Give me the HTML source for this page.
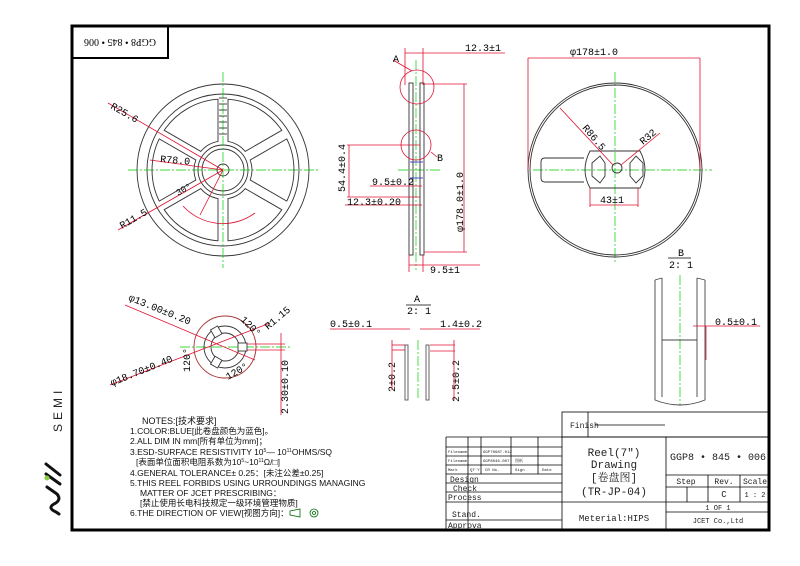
<!DOCTYPE html>
<html><head><meta charset="utf-8">
<style>
html,body{margin:0;padding:0;background:#fff;}
svg{display:block;}
text{font-family:"Liberation Mono","Noto Serif CJK SC",monospace;}
.s text{font-family:"Liberation Sans","Noto Sans CJK SC",sans-serif;}
.r text{font-family:"Liberation Serif","Noto Serif CJK SC",serif;}
</style></head><body>
<svg id="d" width="800" height="566" viewBox="0 0 800 566" xmlns="http://www.w3.org/2000/svg">
<rect width="800" height="566" fill="#fff"/>
<rect x="72" y="26" width="697" height="504" fill="none" stroke="#000" stroke-width="3"/>
<rect x="72" y="26" width="96" height="32" fill="none" stroke="#000" stroke-width="2"/>
<g class="r"><text x="120" y="46" font-size="10" text-anchor="middle" transform="rotate(180 120 42.5)">GGP8 • 845 • 006</text></g>

<g id="lr" fill="none" stroke="#333" stroke-width="0.9">
<circle cx="223" cy="170" r="86"/>
<circle cx="223" cy="170" r="76"/>
<circle cx="223" cy="170" r="25"/>
<circle cx="223" cy="170" r="21"/>
<circle cx="223" cy="170" r="6"/>
</g>
<g stroke="#0c0" stroke-width="0.7" stroke-dasharray="10,2,2,2">
<line x1="128" y1="170" x2="320" y2="170"/><line x1="223" y1="72" x2="223" y2="268"/>
<line x1="533" y1="170" x2="712" y2="170"/><line x1="615" y1="72" x2="615" y2="262"/>
<line x1="180" y1="347" x2="290" y2="347"/>
<line x1="418" y1="340" x2="418" y2="400"/><line x1="680" y1="275" x2="680" y2="405"/>
<line x1="416" y1="60" x2="416" y2="270"/><line x1="398" y1="170" x2="440" y2="170"/>
</g>
<g stroke="#e01030" stroke-width="0.8" fill="none">
<line x1="108" y1="103" x2="223" y2="170"/>
<line x1="150" y1="160" x2="223" y2="170"/>
<line x1="118" y1="230" x2="223" y2="170"/>
<path d="M183 206 A54 54 0 0 0 255 213"/>
<line x1="223" y1="170" x2="200" y2="215"/>
</g>
<g font-size="10" fill="#000">
<text x="110" y="108" transform="rotate(30 110 108)">R25.6</text>
<text x="160" y="162" transform="rotate(5 160 162)">R78.0</text>
<text x="122" y="229" transform="rotate(-30 122 229)">R11.5</text>
<text x="178" y="196" font-size="9" transform="rotate(-30 178 196)">30°</text>
</g>

<g stroke="#333" stroke-width="0.9" fill="none">
<rect x="409" y="83" width="4" height="172"/><rect x="420" y="83" width="4" height="172"/>
</g>
<g stroke="#22c" stroke-width="0.8"><line x1="410" y1="162" x2="423" y2="162"/><line x1="410" y1="178" x2="423" y2="178"/></g>
<g stroke="#e01030" stroke-width="0.8" fill="none">
<circle cx="417" cy="87" r="17"/><circle cx="416" cy="145" r="15"/>
<line x1="405" y1="53" x2="505" y2="53"/>
<line x1="405" y1="48" x2="405" y2="85"/><line x1="423" y1="48" x2="423" y2="85"/>
<line x1="424" y1="84" x2="467" y2="84"/><line x1="424" y1="252" x2="467" y2="252"/>
<line x1="464" y1="84" x2="464" y2="252"/>
<line x1="347" y1="145" x2="420" y2="145"/><line x1="347" y1="197" x2="420" y2="197"/><line x1="349" y1="145" x2="349" y2="197"/>
<line x1="370" y1="186" x2="422" y2="186"/>
<line x1="345" y1="205" x2="422" y2="205"/>
<line x1="409" y1="265" x2="480" y2="265"/>
<line x1="409" y1="255" x2="409" y2="272"/><line x1="423" y1="255" x2="423" y2="272"/>
<line x1="412" y1="71" x2="393" y2="60"/><line x1="431" y1="152" x2="437" y2="157"/>
</g>
<g font-size="10">
<text x="465" y="51">12.3±1</text>
<text x="393" y="62">A</text>
<text x="437" y="161">B</text>
<text x="372" y="185">9.5±0.2</text>
<text x="347" y="205">12.3±0.20</text>
<text x="430" y="273">9.5±1</text>
<text x="0" y="0" transform="translate(345 192) rotate(-90)">54.4±0.4</text>
<text x="0" y="0" transform="translate(463 232) rotate(-90)">φ178.0±1.0</text>
</g>

<g stroke="#333" stroke-width="0.9" fill="none">
<circle cx="615" cy="170" r="87"/><circle cx="615" cy="170" r="85"/>
<path d="M590 151 L640 151 Q650 170 640 188 L590 188 Q580 170 590 151 Z"/>
<path d="M584 158 L545 158 Q541 158 541 162 L541 178 Q541 182 545 182 L584 182"/>
<circle cx="617" cy="168" r="5"/>
<path d="M592 163 L600 156 L605 163 L605 176 L600 183 L592 176 Z"/>
<path d="M630 163 L636 156 L643 163 L643 176 L636 183 L630 176 Z"/>
</g>
<g stroke="#e01030" stroke-width="0.8" fill="none">
<line x1="528" y1="58" x2="700" y2="58"/><line x1="528" y1="58" x2="528" y2="170"/><line x1="700" y1="58" x2="700" y2="170"/>
<line x1="560" y1="108" x2="613" y2="165"/><line x1="660" y1="133" x2="621" y2="165"/>
<line x1="590" y1="188" x2="590" y2="207"/><line x1="638" y1="188" x2="638" y2="207"/><line x1="590" y1="205" x2="638" y2="205"/>
</g>
<g font-size="10">
<text x="570" y="55">φ178±1.0</text>
<text x="582" y="128" transform="rotate(50 582 128)">R86.5</text>
<text x="643" y="145" transform="rotate(-40 643 145)">R32</text>
<text x="600" y="203">43±1</text>
</g>

<g stroke="#333" stroke-width="0.9" fill="none">
<circle cx="225" cy="347" r="31" stroke="#a33"/>
<circle cx="225" cy="347" r="21"/><circle cx="225" cy="347" r="14"/>
</g>
<g stroke="#e01030" stroke-width="0.8" fill="none">
<line x1="125" y1="305" x2="255" y2="360"/>
<line x1="110" y1="385" x2="270" y2="323"/>
<line x1="245" y1="344" x2="285" y2="344"/><line x1="245" y1="350" x2="285" y2="350"/>
<line x1="281" y1="333" x2="281" y2="415"/>
</g>
<g font-size="10">
<text x="128" y="300" transform="rotate(22 128 300)">φ13.00±0.20</text>
<text x="112" y="386" transform="rotate(-22 112 386)">φ18.70±0.40</text>
<text x="240" y="320" transform="rotate(45 240 320)">120°</text>
<text x="268" y="330" transform="rotate(-40 268 330)">R1.15</text>
<text x="0" y="0" transform="translate(190 372) rotate(-90)">120°</text>
<text x="228" y="380" transform="rotate(-30 228 380)">120°</text>
<text x="0" y="0" transform="translate(288 414) rotate(-90)">2.30±0.10</text>
</g>

<g font-size="10"><text x="414" y="302">A</text><text x="407" y="314">2: 1</text>
<line x1="406" y1="305" x2="431" y2="305" stroke="#000" stroke-width="0.8"/>
<text x="330" y="327">0.5±0.1</text><text x="440" y="327">1.4±0.2</text>
<text x="0" y="0" transform="translate(395 392) rotate(-90)">2±0.2</text>
<text x="0" y="0" transform="translate(459 402) rotate(-90)">2.5±0.2</text></g>
<g stroke="#555" stroke-width="0.9" fill="none"><rect x="405" y="345" width="3" height="55"/><rect x="426" y="345" width="3" height="55"/></g>
<g stroke="#e01030" stroke-width="0.8"><line x1="330" y1="329" x2="410" y2="329"/><line x1="420" y1="329" x2="480" y2="329"/>
<line x1="392" y1="340" x2="392" y2="390"/><line x1="392" y1="345" x2="405" y2="345"/><line x1="392" y1="350" x2="405" y2="350"/>
<line x1="454" y1="340" x2="454" y2="400"/><line x1="430" y1="345" x2="455" y2="345"/><line x1="430" y1="351" x2="455" y2="351"/></g>

<g font-size="10"><text x="678" y="256">B</text><text x="669" y="268">2: 1</text>
<line x1="668" y1="258" x2="691" y2="258" stroke="#000" stroke-width="0.8"/>
<text x="715" y="325">0.5±0.1</text></g>
<g stroke="#444" stroke-width="0.9" fill="none">
<path d="M655 280 L655 400 Q680 410 705 400 L705 280"/>
<path d="M662 278 L662 397"/><path d="M697 278 L697 397"/>
<path d="M655 280 L662 278"/><path d="M705 280 L697 278"/>
<line x1="662" y1="340" x2="697" y2="340"/>
</g>
<g stroke="#e01030" stroke-width="0.8"><line x1="693" y1="326" x2="760" y2="326"/><line x1="706" y1="326" x2="706" y2="360"/></g>

<g class="s" font-size="8.5" fill="#111">
<text x="142" y="424" font-size="9">NOTES:[技术要求]</text>
<text x="130" y="434">1.COLOR:BLUE[此卷盘颜色为蓝色]。</text>
<text x="130" y="444">2.ALL DIM IN mm[所有单位为mm]；</text>
<text x="130" y="455">3.ESD-SURFACE RESISTIVITY 10<tspan font-size="5" dy="-3">5</tspan><tspan dy="3">— 10</tspan><tspan font-size="5" dy="-3">11</tspan><tspan dy="3">OHMS/SQ</tspan></text>
<text x="136" y="465">[表面单位面积电阻系数为10<tspan font-size="5" dy="-3">5</tspan><tspan dy="3">~10</tspan><tspan font-size="5" dy="-3">11</tspan><tspan dy="3">Ω/□]</tspan></text>
<text x="130" y="476">4.GENERAL TOLERANCE± 0.25：[未注公差±0.25]</text>
<text x="130" y="486">5.THIS REEL FORBIDS USING URROUNDINGS MANAGING</text>
<text x="140" y="496">MATTER OF JCET PRESCRIBING：</text>
<text x="140" y="506">[禁止使用长电科技规定一级环境管理物质]</text>
<text x="130" y="516">6.THE DIRECTION OF VIEW[视图方向]：</text>
<text x="62" y="432" font-size="12" fill="#222" letter-spacing="4" transform="rotate(-90 62 432)">SEMI</text>
</g>
<g stroke="#060" stroke-width="0.8" fill="none"><path d="M290 511 L300 509 L300 517 L290 515 Z"/><circle cx="314" cy="513" r="4"/><circle cx="314" cy="513" r="1.5"/></g>

<g stroke="#111" stroke-width="3" fill="none" stroke-linecap="round">
<path d="M46 464 L60 475"/><path d="M46 474 L60 484"/>
<path d="M47 487 L57 494 Q62 500 54 504 Q47 508 56 512 L59 514"/>
</g>
<circle cx="47" cy="478" r="2.5" fill="#8c4"/>

<g stroke="#000" stroke-width="0.8" fill="none">
<rect x="562" y="412" width="207" height="25"/>
<line x1="588" y1="412" x2="588" y2="437"/>
<line x1="595" y1="425" x2="665" y2="425"/>
<line x1="446" y1="437" x2="769" y2="437"/>
<line x1="446" y1="437" x2="446" y2="530"/>
<line x1="562" y1="437" x2="562" y2="530"/>
<line x1="666" y1="437" x2="666" y2="530"/>
<line x1="446" y1="447" x2="562" y2="447"/>
<line x1="446" y1="456" x2="562" y2="456"/>
<line x1="446" y1="465" x2="562" y2="465"/>
<line x1="446" y1="474" x2="562" y2="474"/>
<line x1="446" y1="483" x2="562" y2="483"/>
<line x1="446" y1="492" x2="562" y2="492"/>
<line x1="446" y1="502" x2="769" y2="502"/>
<line x1="446" y1="520" x2="562" y2="520"/>
<line x1="468" y1="437" x2="468" y2="530"/>
<line x1="481" y1="437" x2="481" y2="474"/>
<line x1="511" y1="437" x2="511" y2="474"/>
<line x1="538" y1="437" x2="538" y2="474"/>
<line x1="666" y1="475" x2="769" y2="475"/>
<line x1="666" y1="487" x2="769" y2="487"/>
<line x1="666" y1="512" x2="769" y2="512"/>
<line x1="708" y1="475" x2="708" y2="502"/>
<line x1="740" y1="475" x2="740" y2="502"/>
<line x1="687" y1="487" x2="687" y2="502"/>
</g>
<g font-size="9" fill="#222">
<text x="570" y="428" font-size="8">Finish</text>
<text x="614" y="456" font-size="11" text-anchor="middle">Reel(7")</text>
<text x="614" y="468" font-size="11" text-anchor="middle">Drawing</text>
<text x="614" y="481" font-size="11" text-anchor="middle">[卷盘图]</text>
<text x="614" y="495" font-size="11" text-anchor="middle">(TR-JP-04)</text>
<text x="614" y="521" font-size="9" text-anchor="middle">Meterial:HIPS</text>
<text x="718" y="460" font-size="10" text-anchor="middle">GGP8 • 845 • 006</text>
<text x="686" y="484" text-anchor="middle" font-size="8">Step</text>
<text x="724" y="484" text-anchor="middle" font-size="8">Rev.</text>
<text x="755" y="484" text-anchor="middle" font-size="8">Scale</text>
<text x="724" y="497" text-anchor="middle">C</text>
<text x="755" y="497" text-anchor="middle" font-size="7">1 : 2</text>
<text x="718" y="510" font-size="7" text-anchor="middle">1    OF    1</text>
<text x="718" y="523" font-size="7" text-anchor="middle">JCET Co.,Ltd</text>
<text x="450" y="482" font-size="8">Design</text>
<text x="453" y="491" font-size="8">Check</text>
<text x="448" y="500" font-size="8">Process</text>
<text x="452" y="517" font-size="8">Stand.</text>
<text x="448" y="528" font-size="8">Approva</text>
<g font-size="4"><text x="448" y="453">Filename</text><text x="483" y="453">GGP7098T.012</text>
<text x="448" y="462">Filename</text><text x="483" y="462">GGP8046.007</text><text x="515" y="462">图纸</text>
<text x="448" y="471">Mark</text><text x="470" y="471">QT'Y</text><text x="485" y="471">CR No.</text><text x="515" y="471">Sign</text><text x="542" y="471">Date</text></g>
</g>
</svg>
<script>
(function(){
var svg=document.getElementById('d');var ns='http://www.w3.org/2000/svg';
var cx=223,cy=170,ro=71,ri=29,w=5;
var g=document.createElementNS(ns,'g');g.setAttribute('fill','none');g.setAttribute('stroke','#333');g.setAttribute('stroke-width','0.9');
function p(r,a){return (cx+r*Math.cos(a)).toFixed(1)+' '+(cy-r*Math.sin(a)).toFixed(1);}
var d='';
for(var k=0;k<6;k++){
 var a1=(30+60*k)*Math.PI/180,a2=a1+Math.PI/3;
 var doo=Math.asin(w/ro),di=Math.asin(w/ri);
 d+='M'+p(ro,a1+doo)+' A'+ro+' '+ro+' 0 0 0 '+p(ro,a2-doo)+' L'+p(ri,a2-di)+' A'+ri+' '+ri+' 0 0 1 '+p(ri,a1+di)+' Z ';
}
var path=document.createElementNS(ns,'path');path.setAttribute('d',d);g.appendChild(path);
for(var y=cy-72;y<cy-32;y+=6){var l=document.createElementNS(ns,'line');l.setAttribute('x1',cx-4);l.setAttribute('x2',cx+4);l.setAttribute('y1',y);l.setAttribute('y2',y);g.appendChild(l);}
svg.appendChild(g);
var g2=document.createElementNS(ns,'g');g2.setAttribute('fill','none');g2.setAttribute('stroke','#333');g2.setAttribute('stroke-width','0.9');
var hx=225,hy=347;
for(var k=0;k<3;k++){var r=document.createElementNS(ns,'rect');
r.setAttribute('x',hx+13);r.setAttribute('y',hy-4);r.setAttribute('width',9);r.setAttribute('height',8);
r.setAttribute('fill','#fff');r.setAttribute('transform','rotate('+(-120*k)+' '+hx+' '+hy+')');g2.appendChild(r);}
svg.appendChild(g2);
})();
</script>
</body></html>
